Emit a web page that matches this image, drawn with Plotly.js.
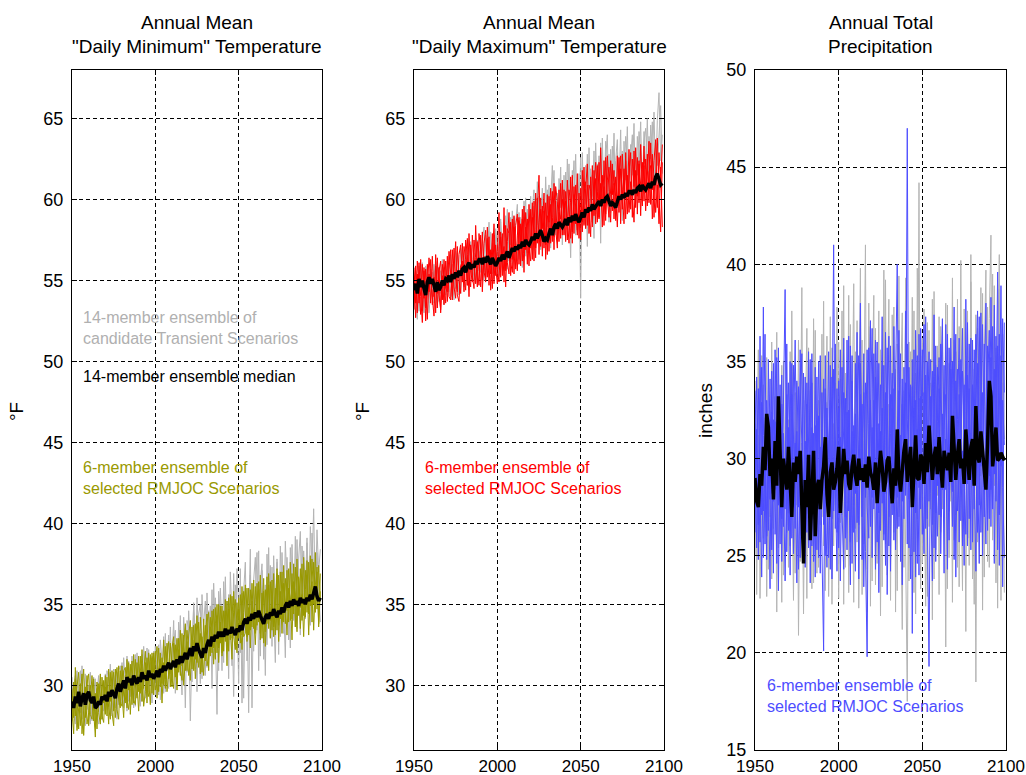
<!DOCTYPE html>
<html><head><meta charset="utf-8">
<script src="https://cdn.plot.ly/plotly-3.0.1.min.js"></script>
<style>html,body{margin:0;padding:0;background:#fff}#chart{width:1026px;height:775px}</style>
</head><body><div id="chart"></div>
<script>
// ---------------- DATA ----------------
const years = Array.from({length:150},(_, i)=>1950+i);
const xTicks = [1950,2000,2050,2100];
const tempTicks = [30,35,40,45,50,55,60,65];
const precipTicks = [15,20,25,30,35,40,45,50];

const panelTitles = [
  ['Annual Mean','"Daily Minimum" Temperature'],
  ['Annual Mean','"Daily Maximum" Temperature'],
  ['Annual Total','Precipitation']
];
const yLabels = ['°F','°F','inches'];

// Panel 1: daily minimum temperature (°F)
const tminMedian = [
29.0,28.6,29.3,28.9,29.6,28.7,29.2,29.5,28.8,29.4,
29.6,29.1,28.9,29.3,28.6,28.7,29.0,28.8,29.3,29.1,
29.4,29.0,29.6,29.3,29.7,29.5,29.2,29.8,30.1,29.6,
29.9,30.3,29.8,30.5,30.2,30.4,30.0,30.6,30.3,30.1,
30.5,30.2,30.8,30.4,30.6,30.3,30.9,30.5,30.7,30.4,
30.6,30.9,30.5,31.0,30.8,31.2,30.9,31.1,31.4,31.0,
31.2,31.5,31.1,31.6,31.3,31.8,31.4,31.7,32.0,31.6,
31.9,32.3,31.8,32.4,32.1,32.6,32.2,32.0,31.7,32.3,
32.0,32.5,32.8,32.4,33.0,32.7,33.1,32.9,33.3,33.0,
33.3,33.0,33.5,33.1,33.4,33.2,33.6,33.3,33.1,33.5,
33.3,33.7,33.4,33.9,34.1,33.8,34.2,34.0,34.4,34.1,
34.5,34.2,34.6,34.3,34.0,33.8,34.2,34.4,34.1,34.5,
34.3,34.7,34.4,34.2,34.6,34.4,34.8,34.5,34.9,35.1,
34.8,35.2,34.9,35.3,35.0,35.2,34.9,35.4,35.1,35.3,
35.0,35.4,35.2,35.6,35.3,35.8,36.1,35.5,35.2,35.4];
const tminSelA = [
27.8,30.2,28.1,29.9,30.8,27.5,29.6,31.0,28.0,30.1,
30.7,28.2,27.9,30.4,27.4,29.8,28.3,27.6,30.5,28.9,
30.6,28.1,31.0,29.0,30.9,28.4,30.2,31.1,29.1,28.6,
31.2,29.4,28.9,31.6,29.7,31.3,28.8,31.9,30.0,29.2,
31.8,29.5,32.2,29.8,31.4,28.9,32.0,30.3,31.7,29.4,
31.5,32.4,29.6,32.0,30.1,32.8,30.4,31.9,32.7,29.9,
32.3,33.0,30.5,32.9,30.8,33.4,31.2,32.6,33.8,30.9,
33.1,34.0,31.0,33.7,31.6,34.3,32.0,33.2,30.8,34.1,
31.5,33.9,34.5,31.8,34.6,32.3,34.8,32.0,35.0,32.6,
34.9,32.1,35.3,32.4,34.7,32.8,35.5,33.0,32.2,35.1,
32.9,35.6,33.1,35.8,34.2,33.0,36.0,33.4,36.3,33.5,
36.1,33.7,36.4,33.2,35.7,32.6,35.9,33.8,36.2,34.0,
36.5,33.6,36.0,33.4,36.8,34.1,37.0,33.9,36.6,34.6,
37.2,34.0,36.9,34.4,37.3,34.2,36.7,34.8,37.5,34.3,
37.1,34.5,37.6,34.9,37.8,35.0,38.2,34.7,37.4,35.2];
const tminSelB = [
29.8,28.0,30.4,27.2,28.6,30.1,27.0,28.4,29.9,27.6,
28.3,30.0,29.2,27.8,29.5,27.3,30.1,29.4,27.9,30.3,
28.2,30.5,28.6,27.9,30.0,30.8,28.0,29.3,31.2,29.0,
28.7,30.9,31.1,29.2,28.5,29.8,31.5,29.1,28.8,31.4,
29.6,31.8,29.0,30.7,32.1,29.8,29.3,31.9,29.5,32.0,
29.7,30.2,32.3,29.9,31.7,30.0,32.4,29.6,30.8,32.6,
30.4,29.8,32.5,30.1,32.9,31.0,30.3,33.1,30.9,32.7,
30.6,31.5,33.6,30.9,33.8,31.4,33.9,30.7,33.0,31.9,
33.7,31.2,31.8,34.2,32.0,34.7,31.6,35.0,32.3,34.9,
32.0,34.6,32.7,35.2,32.1,35.6,32.9,34.5,35.3,32.5,
35.4,32.6,36.1,33.0,33.2,36.0,33.1,35.9,33.6,36.5,
33.2,36.3,33.9,36.8,32.9,35.8,33.3,36.7,33.5,36.4,
33.4,36.9,33.1,37.2,33.7,37.0,34.0,37.4,33.8,37.1,
33.9,37.6,34.1,37.5,33.6,37.8,34.3,37.2,34.0,37.9,
34.2,37.7,34.4,38.0,33.9,37.6,34.5,37.3,33.8,36.9];
const tminSelC = [
28.3,27.0,31.1,28.7,27.3,29.4,30.7,26.9,29.0,30.6,
27.5,29.3,30.6,28.4,26.8,30.2,28.9,30.7,28.1,27.7,
29.9,29.4,27.6,30.8,28.3,27.5,31.0,28.5,27.9,30.9,
29.5,28.0,30.6,28.6,31.4,28.2,30.3,28.9,31.6,30.2,
28.4,30.9,31.3,28.7,29.6,31.7,30.5,28.8,32.0,30.8,
32.1,29.2,31.0,31.6,28.9,31.4,29.8,32.6,30.4,31.2,
29.9,32.6,31.5,29.7,32.2,30.6,33.2,30.0,31.6,33.4,
32.0,30.3,32.9,32.7,30.4,32.2,31.1,34.2,32.4,30.6,
33.2,34.4,30.9,33.6,33.1,31.3,33.8,34.3,31.4,33.9,
31.8,33.4,34.6,31.2,35.4,33.7,31.6,35.8,33.2,32.0,
34.7,33.9,32.2,34.5,36.2,32.7,34.8,32.3,35.2,34.4,
32.5,35.0,35.9,32.8,34.7,36.6,32.4,35.1,36.9,32.9,
35.6,33.0,35.3,36.9,32.7,35.8,33.2,36.3,35.2,33.1,
36.0,35.4,32.8,36.4,35.7,33.3,36.6,33.5,35.6,33.0,
35.9,36.8,33.1,35.7,36.4,33.4,36.2,37.0,33.6,35.8];
const tminCandA = [
30.5,28.2,27.6,30.9,29.0,28.3,31.2,28.6,27.5,29.8,
29.0,30.8,27.8,28.9,30.4,28.0,27.6,30.2,29.1,28.4,
30.7,28.8,29.4,31.3,28.1,30.6,29.7,27.9,30.9,31.2,
28.9,31.7,30.1,28.4,31.5,29.3,31.8,30.2,28.7,32.0,
30.6,28.7,31.9,30.0,29.2,32.3,29.6,31.4,28.9,32.1,
29.4,31.9,32.5,29.1,30.6,33.0,29.6,31.5,33.1,30.7,
31.6,34.0,29.5,32.8,31.3,34.3,30.2,32.9,28.6,34.0,
33.5,27.8,32.4,34.9,31.0,35.4,32.9,30.1,35.6,33.0,
30.6,35.7,32.6,34.9,29.8,36.3,33.4,28.2,35.8,34.1,
30.9,36.4,33.6,35.2,30.4,37.0,34.3,29.3,36.2,34.6,
30.1,37.2,28.9,35.8,37.6,31.5,34.0,38.4,28.6,36.5,
37.9,33.4,38.3,31.8,37.1,35.2,30.6,38.1,34.5,37.4,
32.4,38.0,35.0,37.6,31.9,38.6,34.8,33.2,38.9,36.1,
32.8,38.5,36.4,34.0,39.2,33.5,37.8,39.5,34.2,38.3,
36.0,39.1,34.6,39.8,37.2,40.9,35.5,39.6,37.0,38.4];
const tminCandB = [
28.0,29.9,30.6,27.4,29.8,30.9,27.9,29.4,30.7,28.5,
30.0,27.6,29.8,30.5,28.2,29.6,30.6,28.0,27.9,30.2,
28.5,30.9,30.4,28.2,29.6,31.0,28.6,30.8,28.8,30.4,
31.4,28.6,29.9,31.8,29.0,31.1,29.8,28.6,31.9,29.5,
31.3,30.1,29.0,32.4,30.5,29.3,32.2,30.0,31.8,29.7,
32.4,30.3,29.4,32.8,31.5,29.5,33.2,30.1,29.8,33.6,
30.3,32.6,33.4,30.1,33.9,31.5,29.4,34.2,32.5,30.8,
34.6,31.9,30.2,35.1,33.0,29.6,34.4,35.0,30.4,33.8,
35.2,31.1,34.6,32.0,35.9,31.7,35.4,33.5,30.9,36.0,
34.0,31.4,36.7,32.2,35.6,33.8,31.2,36.9,33.0,37.2,
34.9,32.0,35.7,29.2,36.0,35.4,28.3,36.8,33.7,32.1,
35.3,38.2,30.9,36.4,37.5,31.6,36.2,32.5,38.5,33.0,
37.3,34.1,31.4,37.8,35.6,33.0,38.2,35.3,31.7,37.9,
35.6,32.3,38.7,35.1,33.6,39.0,35.9,33.1,38.6,36.3,
34.1,38.8,36.5,33.7,39.4,37.0,34.8,38.2,35.9,33.9];

// Panel 2: daily maximum temperature (°F)
const tmaxMedian = [
54.4,54.8,54.2,55.1,54.6,55.0,54.5,54.1,54.9,55.2,
54.8,55.1,54.7,54.3,54.9,54.4,54.6,55.0,54.7,55.1,
55.0,55.3,54.9,55.4,55.1,55.5,55.2,55.6,55.3,55.7,
55.8,55.5,55.9,56.1,55.7,56.0,55.8,56.2,56.0,56.3,
56.3,56.0,56.4,56.1,56.5,56.2,56.0,56.4,56.1,55.9,
56.1,56.4,56.2,56.6,56.3,56.5,56.8,56.4,56.7,57.0,
56.8,57.1,56.9,57.2,57.0,57.4,57.1,57.5,57.3,57.2,
57.4,57.7,57.5,57.9,57.6,57.9,58.1,57.8,57.4,57.6,
57.5,57.9,58.2,57.8,58.3,58.5,58.2,58.6,58.4,58.3,
58.5,58.8,58.4,58.9,58.6,59.0,58.7,59.1,58.8,58.6,
58.9,59.2,58.9,59.4,59.2,59.5,59.3,59.7,59.4,59.6,
59.7,59.9,59.6,60.0,59.8,60.1,60.2,59.9,59.6,59.8,
59.7,59.5,59.9,60.2,60.0,60.3,60.1,60.4,60.2,60.5,
60.5,60.3,60.6,60.4,60.7,60.8,60.5,60.9,60.7,60.6,
60.8,61.0,60.7,61.1,60.9,61.4,61.6,61.2,60.9,61.0];
const tmaxSelA = [
53.2,55.9,53.0,56.1,54.0,52.4,55.6,53.3,56.0,54.3,
56.3,53.5,55.2,53.0,56.4,54.1,53.2,56.0,54.8,53.6,
56.5,54.0,53.8,56.9,54.6,53.9,57.1,55.0,54.2,57.3,
55.3,54.4,57.6,55.2,54.6,57.8,55.9,54.8,57.4,56.0,
54.6,58.0,55.5,55.1,57.6,54.7,56.9,54.5,57.8,55.3,
56.8,59.2,55.2,57.9,54.9,58.4,56.1,55.4,58.6,56.3,
59.0,55.7,57.8,58.9,55.9,59.4,56.7,58.3,56.0,59.7,
57.0,59.8,56.2,60.4,57.3,58.6,60.1,56.5,59.3,57.2,
60.3,56.8,59.7,57.4,61.0,58.2,57.0,60.6,57.6,61.2,
57.8,60.5,58.9,57.3,61.4,58.0,60.8,58.5,61.6,57.6,
60.7,58.6,62.0,58.2,60.9,59.5,57.7,62.1,59.0,61.3,
58.6,62.3,59.7,61.5,58.4,62.6,60.0,58.9,62.4,60.3,
61.8,58.7,62.7,59.2,61.9,60.6,58.5,62.9,60.2,63.1,
59.4,62.5,60.8,63.2,59.1,62.2,61.0,59.6,63.3,60.4,
62.8,59.8,63.5,60.6,62.4,63.7,59.5,62.9,61.2,63.4];
const tmaxSelB = [
55.8,53.6,56.2,54.3,52.9,56.0,53.9,55.7,52.6,55.4,
53.6,56.5,54.0,55.9,53.3,55.6,56.2,53.8,56.3,54.5,
54.3,56.8,55.4,54.0,57.0,55.1,54.3,56.6,57.2,54.9,
57.1,56.3,54.7,57.9,55.6,54.9,57.5,56.4,54.6,57.9,
56.9,55.0,57.3,58.1,55.2,57.7,54.4,56.2,58.5,55.8,
54.8,57.1,58.0,55.3,59.5,55.6,58.2,57.9,55.3,58.8,
55.4,58.4,59.1,56.0,58.5,56.2,59.6,56.9,58.8,55.9,
59.4,56.3,59.9,57.0,59.2,61.5,57.1,59.6,57.0,59.8,
56.6,60.2,57.3,60.5,56.9,60.8,59.9,57.4,61.0,57.8,
60.6,57.4,61.2,59.4,57.6,61.5,57.9,60.9,58.1,60.4,
57.5,61.8,58.4,60.7,62.2,57.9,61.4,58.3,61.8,58.5,
62.1,58.8,61.0,58.3,62.4,59.1,62.7,60.5,58.6,62.2,
58.8,61.4,59.6,62.6,58.5,62.8,60.2,62.4,59.1,61.7,
62.9,58.9,63.0,59.5,62.6,59.8,63.4,60.6,62.1,59.3,
61.5,63.6,59.7,62.8,58.9,61.9,63.8,60.1,58.0,62.3];
const tmaxSelC = [
54.9,52.7,55.4,53.6,56.3,53.1,55.8,52.5,54.6,56.4,
55.1,53.9,52.8,56.6,54.2,55.8,53.0,55.3,53.5,56.2,
53.7,55.7,56.9,53.8,55.5,57.4,54.1,53.7,55.9,56.2,
54.3,57.5,56.6,54.0,57.2,55.3,54.5,58.4,55.7,54.7,
57.8,54.3,56.5,54.9,58.3,56.2,55.4,57.9,54.8,57.2,
55.7,54.9,57.7,56.5,57.1,54.6,57.4,59.2,56.1,55.5,
58.3,56.8,55.6,58.7,57.4,58.8,55.5,59.2,57.6,57.0,
56.2,58.9,58.1,56.4,60.1,56.6,59.4,58.2,60.4,56.3,
59.0,58.6,60.7,58.9,57.7,59.9,57.6,59.2,58.8,60.0,
59.2,59.9,57.5,60.6,59.8,57.3,60.3,59.6,57.8,59.5,
59.7,58.0,60.4,61.1,58.4,60.9,60.5,58.6,60.2,62.3,
60.5,58.9,63.2,59.6,60.8,58.7,61.2,62.0,60.3,59.3,
61.0,60.2,58.3,61.3,62.7,59.4,61.9,58.8,61.5,59.2,
61.1,60.3,58.6,61.8,60.2,62.4,59.0,62.3,59.9,62.5,
59.6,61.7,62.1,58.8,61.3,59.2,60.9,58.5,62.0,58.3];
const tmaxCandA = [
53.9,55.6,54.8,53.1,56.0,54.2,53.0,55.9,54.1,53.6,
55.7,54.0,56.0,54.6,53.3,55.8,54.2,56.3,53.5,55.2,
55.9,54.3,56.6,55.0,53.8,56.8,55.2,54.1,57.0,55.5,
54.6,57.3,55.4,54.4,57.0,56.3,55.0,57.6,54.9,56.8,
55.5,57.4,58.3,55.2,57.1,55.9,58.0,55.4,56.7,57.9,
55.4,57.8,58.6,55.8,57.4,59.0,55.7,58.4,57.2,59.3,
56.4,58.6,59.7,56.3,58.9,57.1,59.9,56.5,59.4,58.1,
60.2,56.9,59.6,58.2,61.1,57.5,58.8,60.7,57.3,61.4,
58.3,60.9,57.0,60.1,61.8,57.8,60.4,58.6,62.0,57.2,
61.5,58.4,62.5,59.7,56.4,61.8,59.1,62.8,58.0,61.6,
53.9,62.9,58.5,62.1,57.1,63.2,59.3,61.5,57.6,63.5,
60.1,62.7,57.3,63.8,59.4,62.5,64.0,58.6,63.1,60.3,
64.1,59.0,62.9,60.8,64.3,58.7,63.6,61.2,64.5,59.5,
63.4,61.5,64.7,59.8,63.9,62.0,64.8,60.4,64.2,61.9,
65.0,60.8,64.6,62.3,65.4,61.0,64.9,66.6,62.4,64.0];
const tmaxCandB = [
55.3,53.8,52.6,55.9,54.7,56.1,53.4,54.9,55.8,53.0,
54.2,55.5,53.6,55.1,56.2,53.7,55.6,53.9,55.8,54.1,
56.2,55.0,53.8,56.0,55.3,54.5,56.7,55.6,54.2,56.9,
55.8,56.9,54.7,56.5,57.4,55.1,56.7,54.8,57.5,55.6,
57.6,56.0,55.0,57.8,56.6,58.6,55.8,57.3,55.1,58.2,
57.1,55.3,58.8,56.9,55.6,57.6,59.4,56.2,58.9,56.0,
58.9,57.3,56.2,59.2,57.8,55.8,58.6,60.1,56.7,58.5,
57.0,59.5,60.6,57.2,58.4,60.2,56.9,60.3,59.1,57.8,
60.6,57.5,59.9,62.1,58.2,60.5,57.4,61.3,59.5,60.8,
57.9,61.7,59.0,62.2,58.6,60.6,62.4,57.8,61.0,59.4,
62.6,58.9,61.2,59.7,62.8,58.4,61.9,60.2,63.0,59.1,
62.2,59.4,63.5,61.1,59.9,63.6,60.4,62.8,59.2,63.3,
60.9,62.4,63.7,59.6,62.2,63.0,60.6,63.9,62.0,60.7,
62.6,64.0,60.3,63.1,61.5,64.2,62.8,60.1,63.6,64.4,
61.7,63.9,62.5,64.8,60.7,63.5,62.1,64.2,65.8,61.6];

// Panel 3: annual total precipitation (inches)
const precipMedian = [
29.0,27.8,27.5,29.2,28.6,30.6,29.4,32.3,31.6,29.1,
30.0,27.9,30.9,28.6,33.2,30.8,27.5,30.0,29.3,28.4,
30.6,29.0,27.0,29.8,28.8,30.1,29.2,30.4,27.2,24.6,
28.9,27.5,30.2,25.8,28.0,30.4,26.0,28.5,28.9,27.4,
28.9,29.6,31.1,28.2,27.0,29.3,29.8,28.4,28.8,29.5,
30.6,27.2,28.9,30.5,29.2,29.9,28.7,28.4,29.6,30.2,
29.1,28.6,30.0,28.9,29.5,28.8,29.7,28.5,30.1,29.3,
29.0,28.4,29.8,27.7,29.2,30.4,29.6,28.3,28.8,29.9,
30.1,29.0,27.7,29.5,28.6,31.5,29.1,28.3,29.7,30.4,
31.0,28.8,29.8,30.6,27.5,29.4,31.2,29.0,28.9,30.2,
30.0,28.7,30.8,29.3,31.7,30.3,28.9,30.1,30.6,29.2,
31.1,29.6,28.5,30.4,30.0,29.4,30.3,28.8,32.2,30.5,
28.9,30.2,31.0,29.5,30.0,28.7,31.5,30.2,28.9,30.6,
31.0,28.6,32.7,30.1,29.8,31.4,30.5,29.2,28.4,30.8,
34.0,33.2,29.6,30.4,31.6,29.9,30.0,30.3,30.1,29.9];
const precipSelA = [
26.2,31.5,24.8,36.3,27.1,37.8,25.6,33.0,29.4,23.3,
34.5,27.8,31.9,24.6,35.7,28.3,26.9,33.4,38.7,25.2,
31.6,24.0,34.9,27.5,30.8,23.6,33.7,29.2,26.1,34.4,
24.4,32.8,28.0,35.1,25.5,31.3,23.9,34.2,27.4,30.6,
25.8,20.1,33.6,28.9,35.5,24.3,31.0,41.0,26.4,29.8,
34.0,23.7,30.5,36.2,25.9,32.4,27.3,35.8,24.6,31.7,
28.2,36.5,23.8,33.3,27.0,35.4,25.2,19.8,31.8,37.1,
24.9,33.0,28.6,36.0,23.1,31.4,27.7,34.8,25.6,30.9,
36.3,24.2,32.6,27.9,35.0,40.0,26.5,31.2,23.5,34.7,
28.1,47.0,25.4,33.8,21.0,35.6,27.2,31.5,24.0,36.7,
29.4,25.1,34.3,28.0,19.3,33.2,26.6,37.4,24.7,31.9,
35.2,27.0,32.3,24.1,36.9,29.5,25.8,34.6,28.3,37.8,
23.9,32.0,36.2,26.8,30.4,24.5,38.2,28.7,33.6,25.3,
36.1,29.0,24.2,34.9,27.6,37.5,25.0,32.7,38.0,26.3,
33.9,28.4,36.8,24.6,31.5,39.6,27.1,35.3,23.4,37.0];
const precipSelB = [
31.8,25.4,33.6,28.7,23.9,31.2,36.4,26.0,29.9,34.1,
25.3,32.0,28.4,35.2,23.2,30.6,34.3,26.5,29.0,33.3,
27.2,35.0,25.9,31.8,36.1,28.6,24.3,32.5,35.4,25.6,
30.9,26.2,35.5,23.6,31.6,28.1,34.7,25.3,32.2,24.1,
33.4,29.0,25.0,32.6,27.7,34.8,23.8,30.1,35.9,26.2,
29.5,35.6,27.4,24.3,33.1,28.5,36.3,25.7,31.4,27.6,
34.9,26.7,31.0,38.0,24.8,29.7,33.9,27.5,25.9,32.4,
36.7,27.4,34.2,25.7,31.8,29.2,37.3,26.1,33.4,23.0,
30.4,35.8,27.1,33.6,25.3,31.9,36.6,28.4,34.1,26.9,
37.6,32.0,29.6,23.8,35.1,27.9,33.0,24.6,36.4,29.8,
32.7,36.9,26.4,31.1,35.5,28.2,23.7,33.9,30.3,26.0,
29.9,33.5,37.2,27.4,31.0,24.3,35.7,30.7,26.5,32.9,
36.4,27.3,29.0,35.1,25.5,33.8,29.3,37.0,26.9,31.3,
28.7,35.6,31.2,26.2,37.3,29.6,33.4,27.0,30.5,35.8,
29.1,38.3,30.9,34.6,27.8,32.7,36.4,29.6,33.0,30.7];
const precipSelC = [
28.0,34.2,29.5,25.7,32.9,27.3,30.3,24.8,35.1,27.9,
32.4,24.1,35.6,30.2,27.6,33.8,24.7,31.3,27.4,35.9,
26.3,30.7,33.3,25.1,28.9,34.0,30.4,24.9,29.1,27.7,
34.2,30.3,25.4,29.5,33.9,24.7,29.2,31.9,24.9,35.3,
29.3,34.1,28.2,24.4,31.0,33.0,26.9,34.6,28.6,24.2,
32.6,28.8,34.7,29.9,27.0,36.1,29.4,23.5,34.0,28.9,
24.2,31.6,35.3,29.0,32.8,23.4,30.6,35.6,28.4,33.0,
28.0,35.4,24.3,30.5,34.9,26.3,32.6,29.8,24.5,35.7,
27.0,31.3,34.4,25.8,30.1,28.0,33.5,24.7,32.8,29.4,
33.9,25.6,34.7,30.3,27.6,32.6,23.9,35.3,28.5,33.2,
26.1,33.4,29.8,35.0,27.8,31.6,34.5,25.4,35.8,28.6,
33.6,25.1,30.9,34.8,28.4,36.4,27.3,32.1,35.0,24.8,
31.8,34.6,25.7,32.5,36.7,28.9,26.1,34.3,30.8,36.2,
25.7,32.2,36.4,29.9,24.6,33.1,36.9,28.8,25.6,33.7,
36.6,26.5,33.5,29.2,36.3,25.3,33.1,38.9,28.5,24.9];
const precipSelD = [
33.5,29.2,26.6,30.8,34.7,24.9,28.9,31.4,26.3,30.5,
28.2,34.9,26.1,29.7,31.8,25.6,32.8,28.9,23.7,30.0,
33.9,28.3,30.1,34.8,26.4,31.4,27.5,35.6,30.3,28.8,
26.8,33.9,30.7,27.9,35.4,26.9,31.7,28.4,35.0,29.4,
31.5,26.6,35.3,30.5,24.9,28.7,34.2,27.3,31.3,33.6,
25.4,31.1,29.6,33.4,30.8,25.3,32.5,29.0,35.3,26.2,
32.3,28.5,26.6,34.9,30.6,33.4,28.0,31.5,35.7,26.5,
31.6,29.0,36.1,28.4,27.2,33.8,29.9,25.8,36.5,31.3,
25.5,33.3,29.6,36.8,28.6,26.4,31.7,35.4,27.8,31.1,
29.8,35.9,27.9,31.6,33.7,25.2,36.6,30.7,33.1,27.4,
35.6,30.2,37.3,26.9,32.4,35.1,29.5,31.0,27.2,34.7,
27.1,35.9,28.4,31.5,33.3,30.6,28.6,36.2,31.2,29.3,
34.0,29.6,33.3,29.9,34.5,31.6,35.0,25.5,35.9,29.8,
33.8,27.4,34.4,37.6,31.5,26.2,30.4,35.9,29.3,32.1,
26.9,35.2,27.4,37.9,29.6,35.8,24.5,31.0,37.2,33.4];
const precipCandA = [
34.0,23.0,31.2,27.5,35.3,25.9,32.1,22.9,30.0,27.0,
36.0,26.4,33.2,22.1,31.5,27.2,34.8,24.0,30.9,26.2,
32.0,25.5,37.6,28.3,24.1,33.9,20.9,31.0,38.8,25.0,
33.0,22.8,35.7,27.8,31.2,23.6,36.6,28.5,24.4,34.9,
27.0,38.1,23.2,32.9,26.1,37.3,22.5,31.8,27.6,37.8,
22.8,34.1,27.1,38.9,24.4,33.5,23.1,36.9,29.1,22.6,
35.5,25.7,31.2,39.8,23.0,34.4,41.0,24.3,36.8,22.4,
33.6,38.4,23.5,31.1,37.6,21.9,35.0,26.8,39.2,24.0,
32.8,22.7,37.4,26.2,34.6,23.2,39.4,28.2,21.2,33.5,
24.8,17.5,36.0,29.2,38.3,23.1,34.4,26.9,44.2,23.3,
36.2,29.9,22.4,37.0,26.5,33.9,21.7,38.6,25.3,35.8,
23.0,36.8,27.4,33.1,20.3,37.9,24.9,34.4,22.6,36.1,
27.1,38.2,23.4,40.2,26.8,33.2,21.1,37.6,25.9,40.5,
23.8,34.6,18.5,36.7,27.9,38.8,22.2,35.4,39.7,24.7,
37.2,41.5,25.8,38.9,23.6,35.1,40.5,22.7,36.4,31.0];
const precipCandB = [
25.0,30.2,35.6,22.8,29.6,33.8,27.1,35.2,24.3,31.9,
23.8,31.1,28.0,36.5,25.4,30.8,22.6,35.0,28.3,33.9,
24.4,35.5,29.5,22.7,33.4,27.6,36.1,24.7,30.8,22.0,
31.5,36.7,25.7,33.5,23.3,37.2,29.9,24.1,33.0,26.6,
36.4,25.5,30.3,36.3,22.9,28.4,35.7,25.5,33.9,29.1,
36.0,26.7,37.6,22.5,34.4,27.7,38.4,24.5,31.5,39.0,
26.4,37.1,22.3,30.0,36.1,25.6,33.2,22.1,38.0,29.4,
23.7,31.3,36.7,24.6,30.9,35.6,23.4,39.7,28.2,32.6,
38.2,25.9,31.6,37.8,22.1,35.9,27.0,33.8,37.5,24.4,
39.3,30.2,23.7,35.5,25.0,37.6,22.0,39.8,29.6,35.3,
24.6,37.7,31.3,22.9,36.6,27.4,38.2,23.8,34.8,28.1,
37.3,26.2,35.9,29.3,38.0,23.3,34.9,27.8,39.3,25.8,
35.5,24.4,36.8,28.9,23.2,37.7,30.7,35.9,24.5,39.1,
30.2,22.5,37.4,25.7,35.6,29.1,38.5,23.9,33.2,37.8,
24.4,34.8,39.5,28.6,35.7,22.3,38.7,27.5,33.9,23.1];

// ---------------- STYLE ----------------
const FONT = 'Arial, "Liberation Sans", sans-serif';
const GRAY = '#b4b4b4', OLIVE = '#999900', RED = '#ff0000', BLUE = '#4d4dff', BLACK = '#000000';

function line(x, y, color, width, ax){
  return {x:x, y:y, type:'scatter', mode:'lines', xaxis:'x'+ax, yaxis:'y'+ax,
          line:{color:color, width:width}, hoverinfo:'skip', showlegend:false};
}
const traces = [
  line(years, tminCandA, GRAY, 1, ''), line(years, tminCandB, GRAY, 1, ''),
  line(years, tminSelA, OLIVE, 1, ''), line(years, tminSelB, OLIVE, 1, ''), line(years, tminSelC, OLIVE, 1, ''),
  line(years, tminMedian, BLACK, 3.5, ''),
  line(years, tmaxCandA, GRAY, 1, '2'), line(years, tmaxCandB, GRAY, 1, '2'),
  line(years, tmaxSelA, RED, 1, '2'), line(years, tmaxSelB, RED, 1, '2'), line(years, tmaxSelC, RED, 1, '2'),
  line(years, tmaxMedian, BLACK, 3.5, '2'),
  line(years, precipCandA, GRAY, 1, '3'), line(years, precipCandB, GRAY, 1, '3'),
  line(years, precipSelA, BLUE, 1, '3'), line(years, precipSelB, BLUE, 1, '3'),
  line(years, precipSelC, BLUE, 1, '3'), line(years, precipSelD, BLUE, 1, '3'),
  line(years, precipMedian, BLACK, 3.5, '3')
];

const L = 72, R = 1006, T = 70, B = 750;
const PW = R - L, PH = B - T;
const pxX = v => (v - L) / PW;
const pxY = v => (B - v) / PH;

function xaxis(d0, d1, anchor){
  return {domain:[pxX(d0), pxX(d1)], anchor:anchor, range:[1950,2100], tickvals:xTicks,
    ticks:'inside', ticklen:5, tickcolor:'#000', showline:true, linecolor:'#000', linewidth:1,
    mirror:'ticks', showgrid:true, gridcolor:'#000', gridwidth:1, griddash:'4px,3px',
    zeroline:false, tickfont:{family:FONT, size:17, color:'#000'}, ticklabelstandoff:1,
    ticklabeloverflow:'allow'};
}
function yaxis(range, ticks, anchor){
  return {domain:[0,1], anchor:anchor, range:range, tickvals:ticks,
    ticks:'inside', ticklen:5, tickcolor:'#000', showline:true, linecolor:'#000', linewidth:1,
    mirror:'ticks', showgrid:true, gridcolor:'#000', gridwidth:1, griddash:'4px,3px',
    zeroline:false, tickfont:{family:FONT, size:18, color:'#000'}, ticklabelstandoff:4,
    ticklabeloverflow:'allow'};
}

const panels = [[72,322],[414,664],[755,1006]];
const annotations = [];
panels.forEach((p, i) => {
  const cx = (p[0] + p[1]) / 2;
  annotations.push({xref:'paper', yref:'paper', x:pxX(cx), y:pxY(22), text:panelTitles[i][0],
    showarrow:false, xanchor:'center', yanchor:'middle', font:{family:FONT, size:19, color:'#000'}});
  annotations.push({xref:'paper', yref:'paper', x:pxX(cx), y:pxY(47), text:panelTitles[i][1],
    showarrow:false, xanchor:'center', yanchor:'middle', font:{family:FONT, size:19, color:'#000'}});
});
[[16,412],[362,412],[705,411]].forEach((c, i) => {
  annotations.push({xref:'paper', yref:'paper', x:pxX(c[0]), y:pxY(c[1]), text:yLabels[i],
    showarrow:false, textangle:-90, xanchor:'center', yanchor:'middle', font:{family:FONT, size:19, color:'#000'}});
});
function note(x, y, text, color){
  annotations.push({xref:'paper', yref:'paper', x:pxX(x), y:pxY(y), text:text, showarrow:false,
    xanchor:'left', yanchor:'middle', align:'left', font:{family:FONT, size:16, color:color}});
}
note(81, 328, '14-member ensemble of<br>candidate Transient Scenarios', '#b0b0b0');
note(81, 377, '14-member ensemble median', '#000');
note(81, 478, '6-member ensemble of<br>selected RMJOC Scenarios', OLIVE);
note(423, 478, '6-member ensemble of<br>selected RMJOC Scenarios', RED);
note(765, 696, '6-member ensemble of<br>selected RMJOC Scenarios', BLUE);

const layout = {
  width:1026, height:775, margin:{l:L, r:1026-R, t:T, b:775-B},
  paper_bgcolor:'#fff', plot_bgcolor:'#fff', showlegend:false,
  font:{family:FONT, color:'#000'},
  xaxis: xaxis(72, 322, 'y'), yaxis: yaxis([26,68], tempTicks, 'x'),
  xaxis2: xaxis(414, 664, 'y2'), yaxis2: yaxis([26,68], tempTicks, 'x2'),
  xaxis3: xaxis(755, 1006, 'y3'), yaxis3: yaxis([15,50], precipTicks, 'x3'),
  annotations: annotations
};
Plotly.newPlot('chart', traces, layout, {displayModeBar:false, staticPlot:true});
</script>
</body></html>
